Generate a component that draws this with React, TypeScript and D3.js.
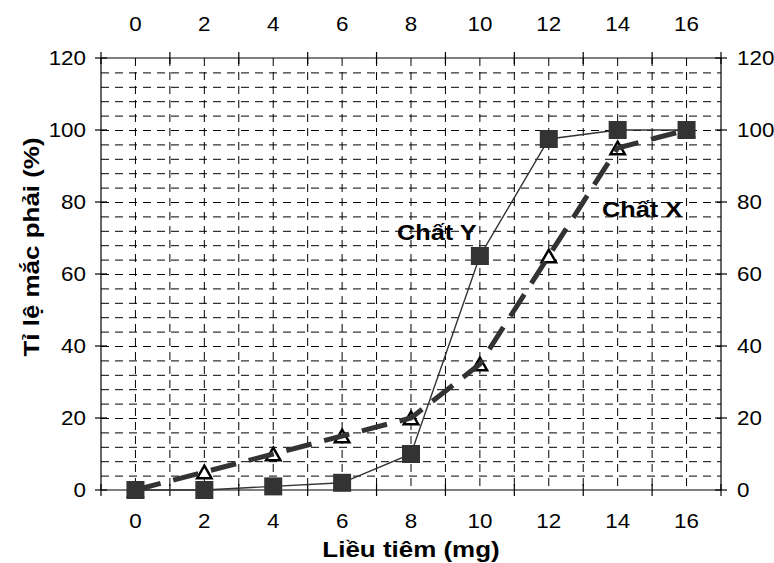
import React from "react";
import * as d3 from "d3";

const doses = ["0", "2", "4", "6", "8", "10", "12", "14", "16"];
const seriesY = [0, 0, 1, 2, 10, 65, 97.5, 100, 100];
const seriesX = [0, 5, 10, 15, 20, 35, 65, 95, 100];
const yTicks = [0, 20, 40, 60, 80, 100, 120];
const xTitle = "Liều tiêm (mg)";
const yTitle = "Tỉ lệ mắc phải (%)";
const labelY = "Chất Y";
const labelX = "Chất X";

const W = 774;
const H = 563;
const L = 101, R = 721, T = 58, B = 490;
const FONT = "'Liberation Sans', Arial, Helvetica, sans-serif";
const INK = "#333333";

export default function App() {
  const x = d3.scaleBand<string>().domain(doses).range([L, R]).paddingInner(0).paddingOuter(0);
  const bw = x.bandwidth();
  const cx = (d: string) => (x(d) as number) + bw / 2;
  const y = d3.scaleLinear().domain([0, 120]).range([B, T]);

  const hGrid = d3.range(4, 120, 4);
  const vGrid = d3.range(1, doses.length * 2).map((k) => L + (k * bw) / 2);
  const bounds = d3.range(0, doses.length + 1).map((k) => L + k * bw);

  const lineGen = d3
    .line<number>()
    .x((_, i) => cx(doses[i]))
    .y((v) => y(v));

  const tri = d3.symbol().type(d3.symbolTriangle).size(90);

  const tickStyle = { fontFamily: FONT, fontSize: 20, fill: "#000" } as const;
  const sx = 1.12;

  return (
    <svg
      width={W}
      height={H}
      style={{ position: "absolute", left: 0, top: 0, display: "block", background: "#fff" }}
    >
      <rect x={0} y={0} width={W} height={H} fill="#fff" />
      {/* grid */}
      <g stroke="#000" strokeWidth={1} strokeDasharray="8,6">
        {hGrid.map((v) => (
          <line key={"h" + v} x1={L} x2={R} y1={y(v) + 0.5} y2={y(v) + 0.5} />
        ))}
        {vGrid.map((gx, i) => (
          <line key={"v" + i} x1={gx} x2={gx} y1={T} y2={B} />
        ))}
      </g>
      {/* axes frame */}
      <g stroke="#000" strokeWidth={1.2}>
        <line x1={L} x2={R} y1={B} y2={B} />
        <line x1={L} x2={R} y1={T} y2={T} />
        <line x1={L} x2={L} y1={T} y2={B} />
        <line x1={R} x2={R} y1={T} y2={B} />
        {yTicks.map((v) => (
          <g key={"yt" + v}>
            <line x1={L - 6} x2={L + 6} y1={y(v)} y2={y(v)} />
            <line x1={R - 6} x2={R + 6} y1={y(v)} y2={y(v)} />
          </g>
        ))}
        {bounds.map((bx, i) => (
          <g key={"xt" + i}>
            <line x1={bx} x2={bx} y1={B - 6} y2={B + 6} />
            <line x1={bx} x2={bx} y1={T - 6} y2={T + 6} />
          </g>
        ))}
      </g>
      {/* tick labels */}
      {doses.map((d) => (
        <g key={"xl" + d}>
          <text
            {...tickStyle}
            textAnchor="middle"
            transform={`translate(${cx(d)},528) scale(${sx},1)`}
          >
            {d}
          </text>
          <text
            {...tickStyle}
            textAnchor="middle"
            transform={`translate(${cx(d)},31) scale(${sx},1)`}
          >
            {d}
          </text>
        </g>
      ))}
      {yTicks.map((v) => (
        <g key={"yl" + v}>
          <text
            {...tickStyle}
            textAnchor="end"
            dy="0.36em"
            transform={`translate(86,${y(v)}) scale(${sx},1)`}
          >
            {v}
          </text>
          <text
            {...tickStyle}
            textAnchor="start"
            dy="0.36em"
            transform={`translate(737,${y(v)}) scale(${sx},1)`}
          >
            {v}
          </text>
        </g>
      ))}
      {/* series X: triangles then thick dashed line */}
      <g>
        {seriesX.map((v, i) => (
          <path
            key={"tri" + i}
            d={tri() as string}
            transform={`translate(${cx(doses[i])},${y(v) + 2})`}
            fill="#fff"
            stroke="#000"
            strokeWidth={2.5}
          />
        ))}
        <path
          d={lineGen(seriesX) as string}
          fill="none"
          stroke={INK}
          strokeWidth={5}
          strokeDasharray="26,13"
        />
      </g>
      {/* series Y */}
      <g>
        <path d={lineGen(seriesY) as string} fill="none" stroke={INK} strokeWidth={1.4} />
        {seriesY.map((v, i) => (
          <rect
            key={"sq" + i}
            x={cx(doses[i]) - 9}
            y={y(v) - 9}
            width={18}
            height={18}
            fill={INK}
          />
        ))}
      </g>
      {/* annotations */}
      <text fontFamily={FONT} fontWeight="bold" fontSize={22} transform={`translate(397,240) scale(1.15,1)`}>
        {labelY}
      </text>
      <text fontFamily={FONT} fontWeight="bold" fontSize={22} transform={`translate(602,217) scale(1.15,1)`}>
        {labelX}
      </text>
      {/* axis titles */}
      <text
        fontFamily={FONT}
        fontWeight="bold"
        fontSize={22}
        textAnchor="middle"
        transform={`translate(${(L + R) / 2},557) scale(1.18,1)`}
      >
        {xTitle}
      </text>
      <text
        fontFamily={FONT}
        fontWeight="bold"
        fontSize={22}
        textAnchor="middle"
        transform={`translate(39,247) rotate(-90) scale(1.18,1)`}
      >
        {yTitle}
      </text>
    </svg>
  );
}
